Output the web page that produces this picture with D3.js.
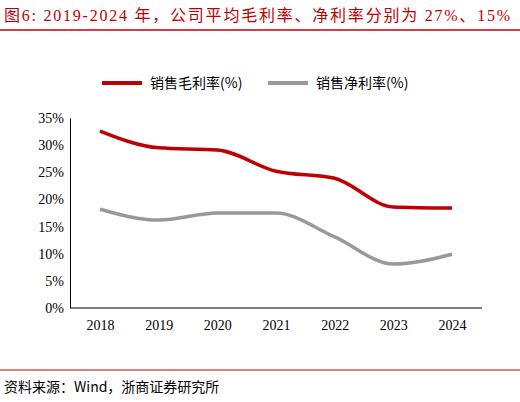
<!DOCTYPE html><html><head><meta charset="utf-8"><script src="https://cdn.jsdelivr.net/npm/d3@7"></script>
<style>body{margin:0;background:#fff}</style></head><body><svg id="c" width="520" height="402"></svg>
<script>
const years=["2018","2019","2020","2021","2022","2023","2024"];
const gross=[32.6,29.5,29.1,25.2,23.9,18.6,18.4];
const net=[18.2,16.2,17.5,17.5,13.1,8.1,9.9];
const yTicks=[0,5,10,15,20,25,30,35];
const svg=d3.select("#c");
const font="'Noto Sans CJK SC', 'Liberation Serif', serif";
svg.append("text").attr("x",4).attr("y",21).attr("fill","#c00000").attr("font-size",16).attr("textLength",506).attr("lengthAdjust","spacing").attr("font-family","'Liberation Serif','Noto Sans CJK SC',serif").text("图6:  2019-2024 年，公司平均毛利率、净利率分别为 27%、15%");
svg.append("line").attr("x1",0).attr("x2",520).attr("y1",30).attr("y2",30).attr("stroke","#c00000").attr("stroke-width",1.5);
const x=d3.scalePoint().domain(years).range([100,452]);
const y=d3.scaleLinear().domain([0,35]).range([308,118]);
const ax=svg.append("g").attr("transform","translate(70,0)").call(d3.axisLeft(y).tickValues(yTicks).tickFormat(d=>d+"%").tickSize(0).tickPadding(6));
ax.select(".domain").attr("stroke","#000");
ax.selectAll("text").attr("font-size",14).attr("font-family","'Liberation Serif',serif").attr("fill","#000");
const bx=svg.append("g").attr("transform","translate(0,308)").call(d3.axisBottom(x).tickSize(0).tickPadding(12));
bx.select(".domain").attr("d","M70,0H482").attr("stroke","#000");
bx.selectAll("text").attr("font-size",14).attr("font-family","'Liberation Serif',serif").attr("fill","#000");
const line=d3.line().x((d,i)=>x(years[i])).y(d=>y(d)).curve(d3.curveMonotoneX);
svg.append("path").datum(net).attr("d",line).attr("fill","none").attr("stroke","#999").attr("stroke-width",3.5);
svg.append("path").datum(gross).attr("d",line).attr("fill","none").attr("stroke","#c00000").attr("stroke-width",3.5);
const lg=[["销售毛利率(%)","#c00000",102],["销售净利率(%)","#999",268]];
lg.forEach(([t,c,lx])=>{svg.append("line").attr("x1",lx).attr("x2",lx+40).attr("y1",83).attr("y2",83).attr("stroke",c).attr("stroke-width",4);
svg.append("text").attr("x",lx+48).attr("y",88).attr("font-size",14).attr("font-family",font).text(t);});
svg.append("line").attr("x1",0).attr("x2",520).attr("y1",370).attr("y2",370).attr("stroke","#c00000").attr("stroke-width",1);
svg.append("text").attr("x",4).attr("y",392).attr("font-size",14).attr("font-family","'Noto Sans CJK SC','Liberation Serif',serif").text("资料来源：Wind，浙商证券研究所");
</script></body></html>
